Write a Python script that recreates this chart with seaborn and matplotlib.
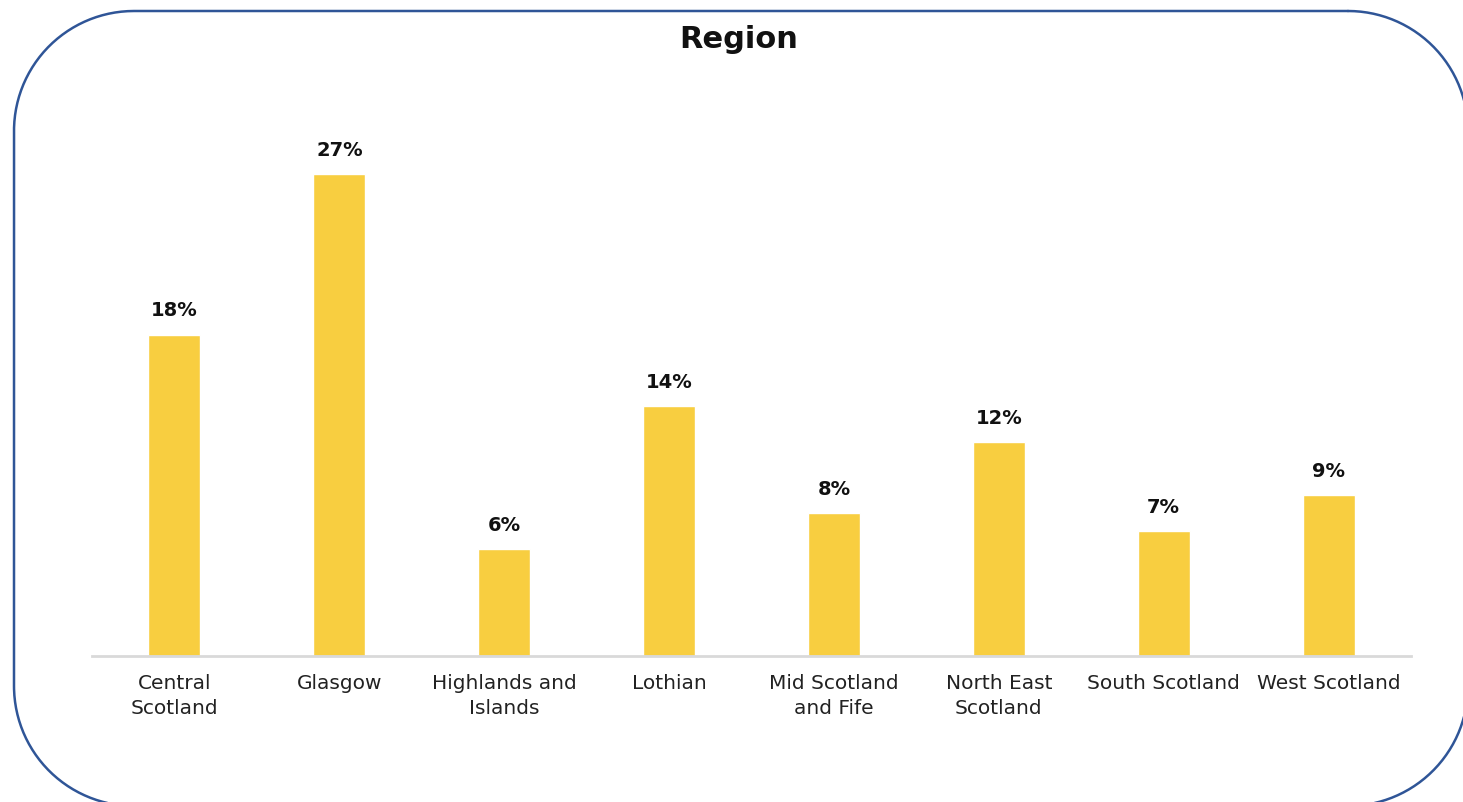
import matplotlib
matplotlib.use("Agg")
import matplotlib.pyplot as plt
import numpy as np
import seaborn as sns
import pandas as pd

regions = ["Central\nScotland", "Glasgow", "Highlands and\nIslands", "Lothian",
           "Mid Scotland\nand Fife", "North East\nScotland", "South Scotland", "West Scotland"]
shares = [18, 27, 6, 14, 8, 12, 7, 9]
title = "Region"

df = pd.DataFrame({"region": regions, "share": shares})

sns.set_theme(style="white")
plt.rcParams["font.family"] = ["DejaVu Sans"]

W, H = 1463, 803
fig = plt.figure(figsize=(W / 100, H / 100), dpi=100)
fig.patch.set_facecolor("white")


def rounded_rect(x0, y0, x1, y1, r, n=60):
    """Polyline outline of a rectangle with circular corners (pixel coords, y down)."""
    pts = []
    corners = [((x1 - r, y0 + r), -90, 0), ((x1 - r, y1 - r), 0, 90),
               ((x0 + r, y1 - r), 90, 180), ((x0 + r, y0 + r), 180, 270)]
    for (cx, cy), a0, a1 in corners:
        t = np.radians(np.linspace(a0, a1, n))
        pts.append(np.column_stack([cx + r * np.cos(t), cy + r * np.sin(t)]))
    pts = np.vstack(pts + [pts[0][:1]])
    return pts[:, 0], pts[:, 1]


# Overlay in pixel units for the rounded frame (runs slightly off the right/bottom edge)
frame_ax = fig.add_axes([0, 0, 1, 1], zorder=0)
frame_ax.set_xlim(0, W)
frame_ax.set_ylim(H, 0)
frame_ax.axis("off")
fx, fy = rounded_rect(14, 12, 1468, 807, 120)
frame_ax.plot(fx, fy, color="#2F5597", linewidth=1.8, clip_on=False,
              solid_joinstyle="round")

ax = fig.add_axes([92 / W, (H - 657) / H, (1411 - 92) / W, (657 - 140) / H], zorder=1)
sns.barplot(data=df, x="region", y="share", color="#F8CE40", width=0.315,
            saturation=1, ax=ax)

ax.set_ylim(0, 517 / 17.85)
ax.set_xlim(-0.5, len(regions) - 0.5)

for i, v in enumerate(shares):
    ax.annotate(f"{v}%", (i, v), xytext=(0, 11), textcoords="offset points",
                ha="center", va="bottom", fontsize=14, fontweight="bold",
                color="#111111")

ax.set_xlabel("")
ax.set_ylabel("")
ax.set_yticks([])
ax.tick_params(axis="x", length=0, pad=12, labelsize=14.5, labelcolor="#222222")
for lbl in ax.get_xticklabels():
    lbl.set_linespacing(1.45)
for s in ["top", "right", "left"]:
    ax.spines[s].set_visible(False)
ax.spines["bottom"].set_color("#D9D9D9")
ax.spines["bottom"].set_linewidth(2)
ax.set_facecolor("none")

fig.text(739 / W, 1 - 40 / H, title, ha="center", va="center",
         fontsize=22, fontweight="bold", color="#111111")

fig.savefig("out.png", dpi=100, facecolor="white")
